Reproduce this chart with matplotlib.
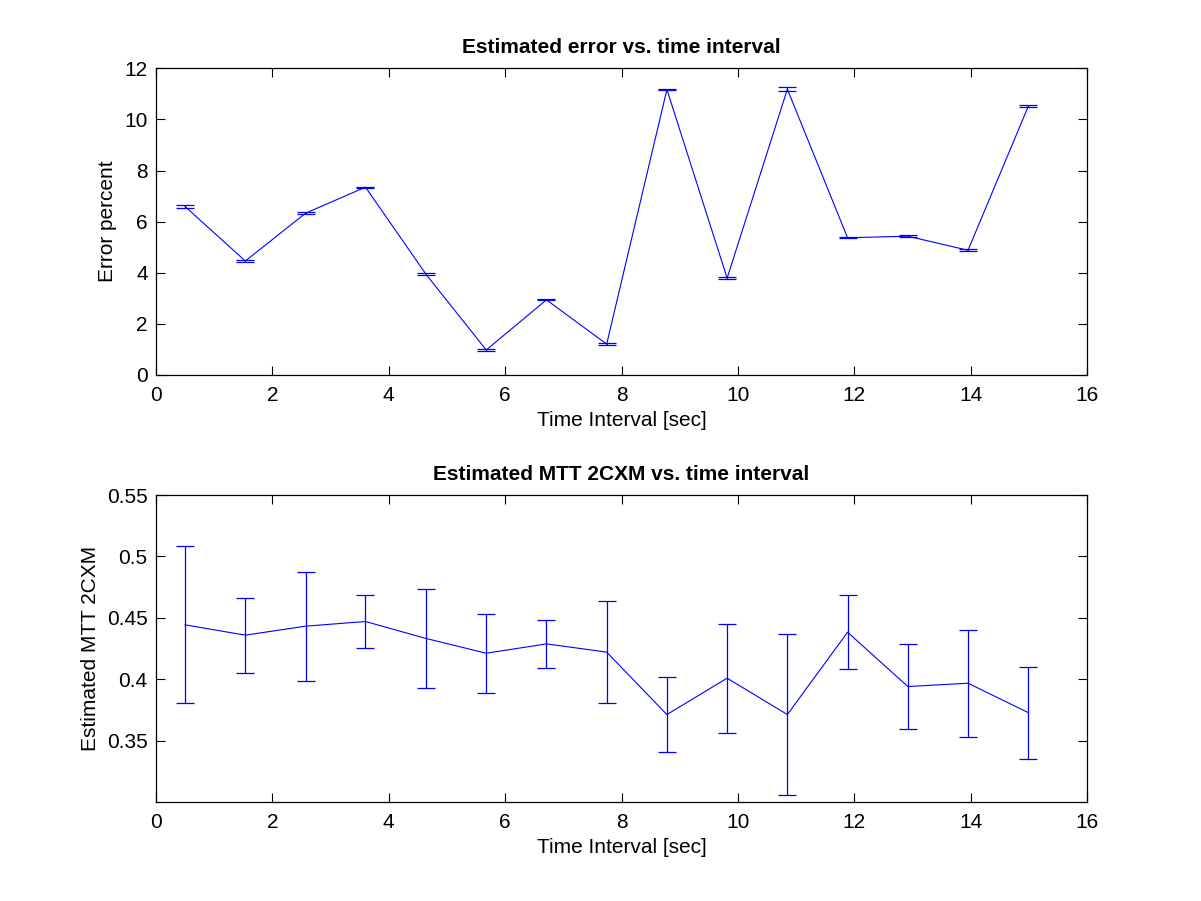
import matplotlib
matplotlib.use("Agg")
import matplotlib.pyplot as plt
from matplotlib.ticker import FuncFormatter

plt.rcParams['font.family'] = ['Liberation Sans', 'DejaVu Sans']

time_interval = [0.50, 1.535, 2.57, 3.60, 4.64, 5.675, 6.71, 7.745,
                 8.78, 9.815, 10.85, 11.885, 12.92, 13.955, 14.99]

error_percent = [6.59, 4.46, 6.33, 7.35, 3.94, 0.98, 2.94, 1.21,
                 11.17, 3.79, 11.18, 5.37, 5.43, 4.88, 10.51]
error_percent_err = [0.05, 0.04, 0.03, 0.015, 0.04, 0.04, 0.02, 0.04,
                     0.03, 0.045, 0.08, 0.02, 0.03, 0.045, 0.04]

mtt_2cxm = [0.4444, 0.4360, 0.4433, 0.4471, 0.4333, 0.4213, 0.4289, 0.4222,
            0.3714, 0.4010, 0.3714, 0.4384, 0.3942, 0.3969, 0.3730]
mtt_2cxm_err = [0.0639, 0.0306, 0.0444, 0.0216, 0.0399, 0.0320, 0.0196, 0.0414,
                0.0305, 0.0444, 0.0656, 0.0301, 0.0345, 0.0436, 0.0374]

top_yticks = [0, 2, 4, 6, 8, 10, 12]
bottom_yticks = [0.35, 0.4, 0.45, 0.5, 0.55]
xticks = [0, 2, 4, 6, 8, 10, 12, 14, 16]

fig = plt.figure(figsize=(12.01, 9.01), dpi=100)
ax1 = fig.add_axes([0.1299, 0.5838, 0.7752, 0.3404])
ax2 = fig.add_axes([0.1299, 0.1095, 0.7752, 0.3411])

FS = 15

def style(ax):
    ax.tick_params(direction='in', length=6.5, width=0.8, top=True, right=True,
                   labelsize=FS)
    ax.tick_params(axis='x', pad=8)
    ax.tick_params(axis='y', pad=6)
    for s in ax.spines.values():
        s.set_linewidth(0.9)
    ax.set_xlim(0, 16)
    ax.set_xticks(xticks)
    ax.set_xlabel('Time Interval [sec]', fontsize=FS, labelpad=4)

ax1.errorbar(time_interval, error_percent, yerr=error_percent_err, color='#0000ff',
             lw=0.8, elinewidth=0.9, capsize=6.3, capthick=0.9)
style(ax1)
ax1.set_ylim(0, 12)
ax1.set_yticks(top_yticks)
ax1.set_ylabel('Error percent', fontsize=FS, labelpad=5)
ax1.set_title('Estimated error vs. time interval', fontsize=FS, fontweight='bold', pad=11)

ax2.errorbar(time_interval, mtt_2cxm, yerr=mtt_2cxm_err, color='#0000ff',
             lw=0.8, elinewidth=0.9, capsize=6.3, capthick=0.9)
style(ax2)
ax2.set_ylim(0.3, 0.55)
ax2.set_yticks(bottom_yticks)
ax2.yaxis.set_major_formatter(FuncFormatter(lambda v, p: f'{v:g}'))
ax2.set_ylabel('Estimated MTT 2CXM', fontsize=FS, labelpad=5)
ax2.set_title('Estimated MTT 2CXM vs. time interval', fontsize=FS, fontweight='bold', pad=11)

fig.savefig('out.png', dpi=100)
